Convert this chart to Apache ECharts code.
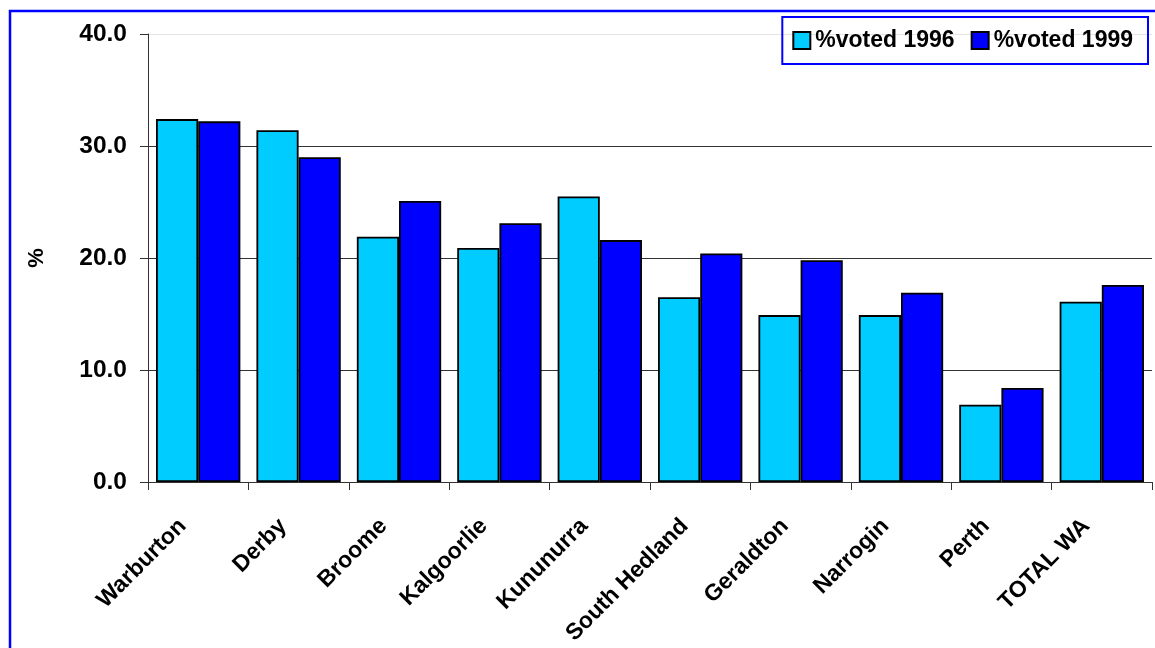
<!DOCTYPE html>
<html>
<head>
<meta charset="utf-8">
<script src="https://cdn.jsdelivr.net/npm/echarts@6/dist/echarts.min.js"></script>
<style>
  html, body { margin: 0; padding: 0; background: #fff; }
  #main { width: 1155px; height: 648px; }
</style>
</head>
<body>
<div id="main"></div>
<script>
// data
const towns = ["Warburton", "Derby", "Broome", "Kalgoorlie", "Kununurra",
  "South Hedland", "Geraldton", "Narrogin", "Perth", "TOTAL WA"];
const voted1996 = [32.4, 31.4, 21.9, 20.9, 25.5, 16.5, 14.9, 14.9, 6.9, 16.1];
const voted1999 = [32.2, 29.0, 25.1, 23.1, 21.6, 20.4, 19.8, 16.9, 8.4, 17.6];
const seriesNames = ["%voted 1996", "%voted 1999"];

const font = "Liberation Sans";
const chart = echarts.init(document.getElementById("main"));

const option = {
  animation: false,
  textStyle: { fontFamily: font },
  graphic: [
    {
      // outer frame, only left & top visible in the picture
      type: "rect",
      shape: { x: 10, y: 11, width: 1200, height: 700 },
      style: { fill: "none", stroke: "#0000ff", lineWidth: 2.5 },
      silent: true,
    },
  ],
  legend: {
    data: seriesNames,
    right: 7,
    top: 17,
    padding: [12, 15, 12, 10],
    borderColor: "#0000ff",
    borderWidth: 2,
    itemWidth: 17,
    itemHeight: 17,
    itemGap: 16,
    icon: "rect",
    textStyle: { fontSize: 23, fontWeight: "bold", color: "#000", fontFamily: font },
  },
  grid: {
    left: 148,
    right: 3,
    top: 34,
    bottom: 166,
    containLabel: false,
    outerBoundsMode: "none",
  },
  xAxis: {
    type: "category",
    data: towns,
    axisLine: { lineStyle: { color: "#333", width: 1 } },
    axisTick: { show: true, inside: false, length: 8, lineStyle: { color: "#333" } },
    axisLabel: {
      rotate: 45,
      margin: 25,
      padding: [0, 22, 0, 0],
      fontSize: 23,
      fontWeight: "bold",
      color: "#000",
      fontFamily: font,
    },
  },
  yAxis: {
    type: "value",
    min: 0,
    max: 40,
    interval: 10,
    name: "%",
    nameLocation: "middle",
    nameGap: 100,
    nameRotate: 90,
    nameTextStyle: { fontSize: 22, fontWeight: "bold", color: "#000", fontFamily: font },
    axisLine: { show: true, lineStyle: { color: "#333", width: 1 } },
    axisTick: { show: true, inside: false, length: 8, lineStyle: { color: "#333" } },
    axisLabel: {
      formatter: (v) => v.toFixed(1),
      fontSize: 24.5,
      fontWeight: "bold",
      color: "#000",
      margin: 21,
      fontFamily: font,
    },
    splitLine: {
      show: true,
      lineStyle: { color: ["#333", "#333", "#333", "#333", "#e4e4e4"], width: 1 },
    },
  },
  series: [
    {
      name: seriesNames[0],
      type: "bar",
      data: voted1996,
      barGap: "0%",
      barCategoryGap: "16%",
      itemStyle: { color: "#00ccff", borderColor: "#000", borderWidth: 1.8 },
    },
    {
      name: seriesNames[1],
      type: "bar",
      data: voted1999,
      itemStyle: { color: "#0000ff", borderColor: "#000", borderWidth: 1.8 },
    },
  ],
};

chart.setOption(option);
</script>
</body>
</html>
